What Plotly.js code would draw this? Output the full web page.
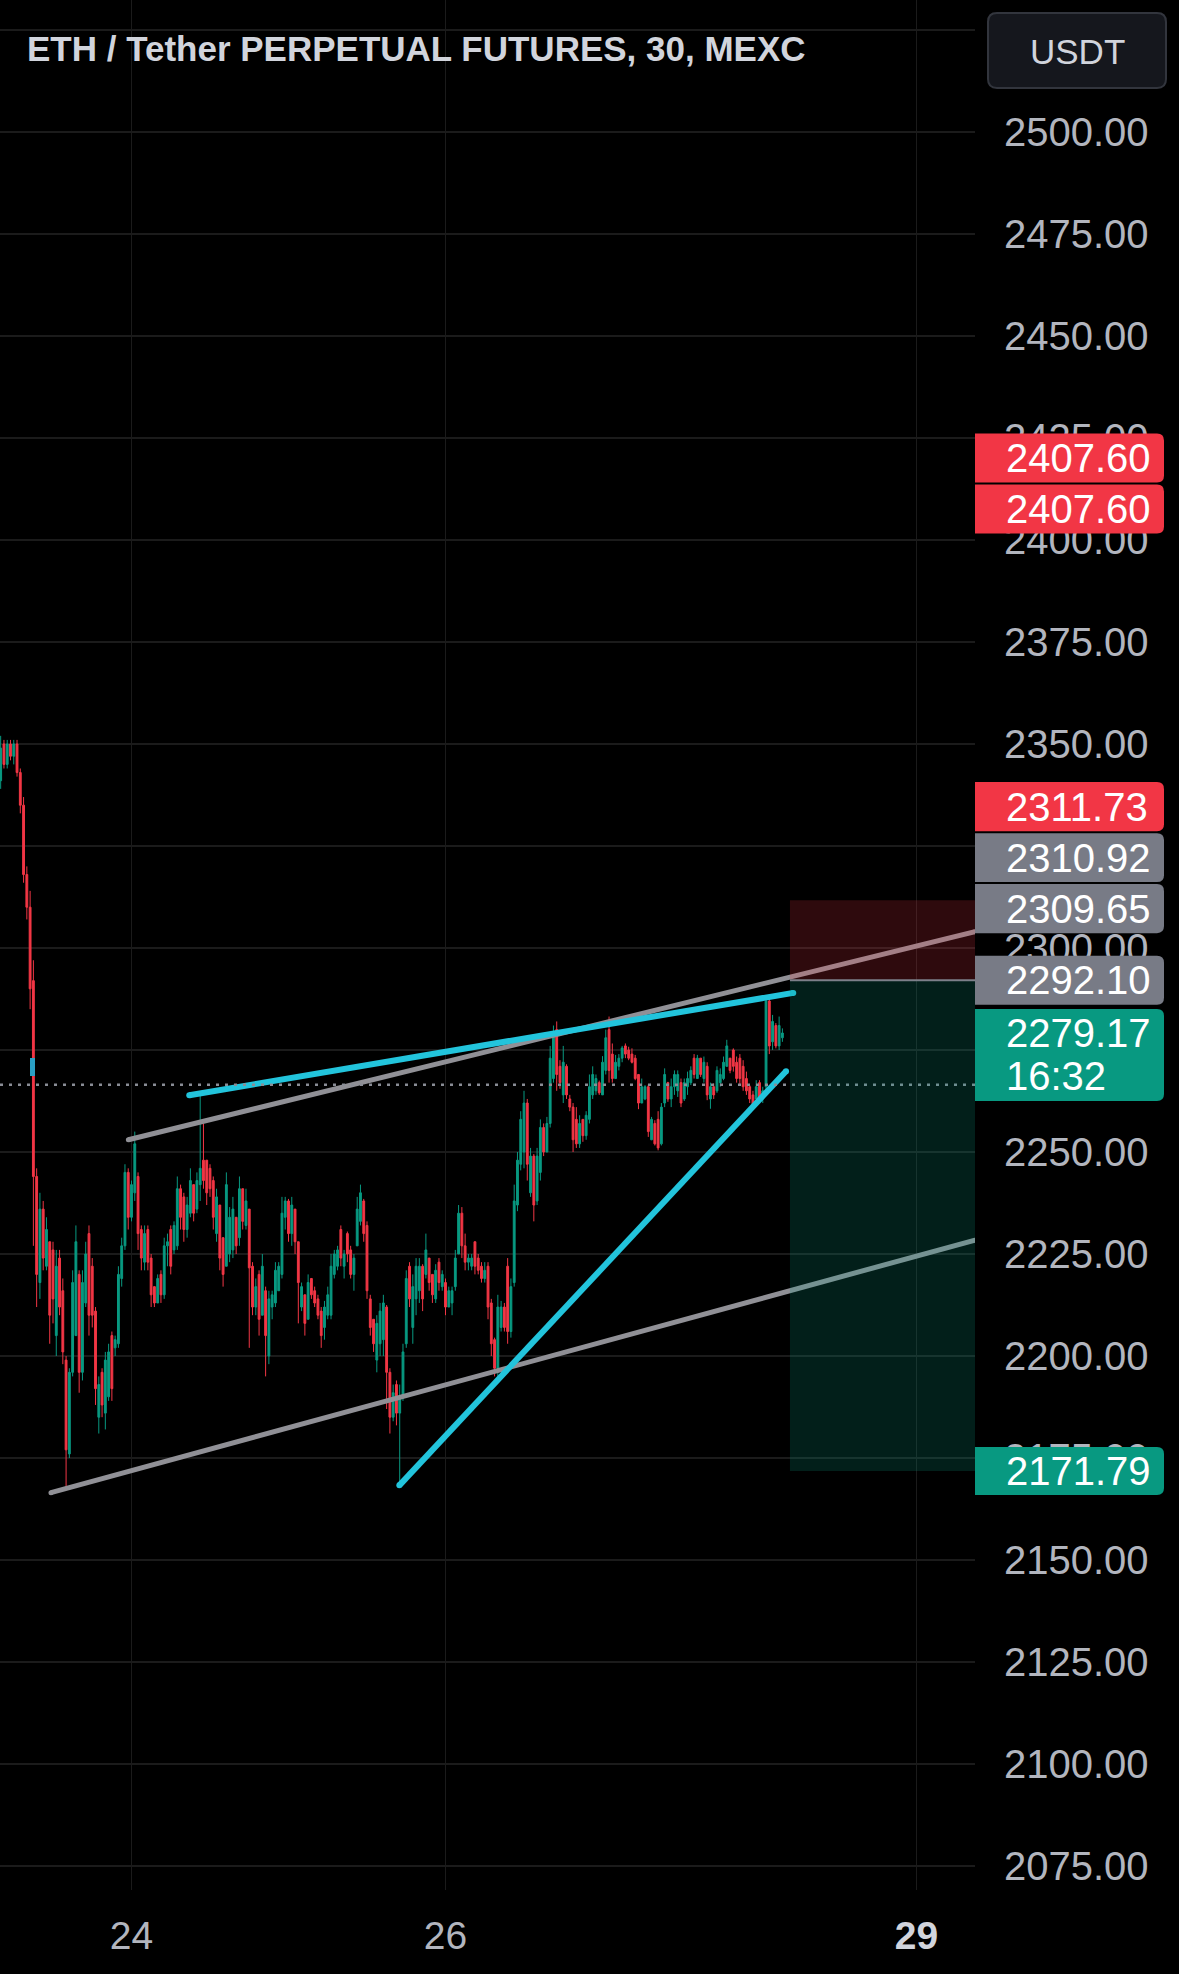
<!DOCTYPE html>
<html><head><meta charset="utf-8">
<script src="https://cdn.plot.ly/plotly-3.0.1.min.js"></script>
<style>html,body{margin:0;padding:0;background:#000;}#chart{width:1179px;height:1974px;}</style>
</head><body><div id="chart"></div>
<script>
// ---------- DATA (ETH/USDT perp, 30-minute bars) ----------
const openP = [
2341,2350,2345,2350,2347,2350,2343,2335,2318,2310,
2292,2244,2218,2236,2222,2228,2226,2205,2224,2216,
2199,2176,2196,2205,2220,2196,2213,2230,2222,2211,
2185,2196,2186,2190,2205,2202,2203,2219,2227,2245,
2234,2240,2244,2231,2223,2231,2224,2217,2213,2220,
2215,2227,2231,2226,2227,2241,2239,2231,2235,2242,
2236,2242,2248,2248,2246,2243,2230,2237,2229,2222,
2225,2226,2234,2229,2241,2232,2236,2222,2212,2220,
2210,2216,2200,2212,2213,2216,2220,2234,2238,2230,
2236,2228,2212,2215,2209,2219,2216,2214,2211,2207,
2210,2210,2220,2222,2231,2222,2230,2226,2220,2227,
2233,2238,2232,2214,2209,2199,2203,2204,2212,2196,
2185,2193,2186,2190,2203,2222,2207,2214,2216,2222,
2220,2224,2220,2214,2223,2217,2218,2212,2213,2217,
2225,2235,2227,2223,2222,2228,2224,2222,2219,2222,
2213,2204,2197,2207,2212,2222,2206,2218,2237,2247,
2250,2262,2240,2249,2238,2245,2256,2250,2257,2268,
2280,2271,2264,2271,2263,2261,2258,2252,2258,2254,
2258,2264,2265,2267,2264,2270,2280,2274,2268,2271,
2273,2276,2275,2274,2273,2269,2262,2263,2266,2253,
2257,2258,2252,2262,2267,2263,2266,2265,2267,2263,
2266,2267,2273,2268,2273,2268,2271,2263,2266,2265,
2267,2268,2271,2273,2275,2272,2273,2271,2268,2266,
2264,2263,2267,2263,2266,2287,2277,2281,2276,2278];
const highP = [
2352,2351,2351,2351,2351,2351,2344,2337,2320,2314,
2297,2246,2240,2238,2234,2228,2228,2226,2226,2219,
2200,2197,2221,2232,2221,2221,2228,2232,2224,2212,
2195,2197,2201,2203,2206,2205,2222,2229,2247,2246,
2243,2255,2245,2232,2232,2232,2225,2217,2220,2221,
2229,2230,2232,2233,2244,2242,2240,2239,2246,2242,
2245,2264,2257,2248,2247,2244,2241,2237,2229,2245,
2236.5,2239,2234,2244,2241,2241,2236,2223,2219,2221,
2225,2217,2216,2216,2223,2223,2239,2239,2238.5,2239,
2236,2228,2218,2215,2220,2219,2217,2215,2212,2213.5,
2217,2225,2226,2227,2232,2226,2230.5,2227,2225,2239,
2242,2238.5,2233,2215,2209,2210,2213,2215,2212.5,2197,
2193,2194,2193,2203,2221,2223,2220,2224,2224,2222.5,
2230,2224,2220,2222.5,2224,2221,2219,2217,2217,2226,
2237,2236.5,2230,2225,2225,2228,2225,2223,2223,2223,
2214,2204.5,2215,2213.5,2213,2224,2219,2242,2250,2260,
2265,2263,2251,2249.5,2251,2258,2257,2258.6,2276,2281,
2282,2272.5,2276,2271.5,2264,2262,2261,2259,2258,2260,
2269,2271,2269,2267.5,2273.5,2280,2283.2,2276.6,2273.8,2274,
2276,2276.6,2275.8,2275.4,2273.8,2269,2268,2266.4,2266.5,2258.6,
2257.8,2260,2262,2270.5,2267.2,2268,2270,2270,2268,2268,
2269.7,2271,2274,2273.8,2273,2273.4,2272,2267,2266.8,2271,
2270.5,2273.4,2277.5,2273,2275.4,2273.4,2274,2272.5,2269.7,2266.4,
2265,2267.6,2267.6,2266,2288.5,2288,2283.6,2281.6,2283.2,2280.3];
const lowP = [
2339,2344,2344,2346,2345,2342,2333,2316,2307,2285,
2227,2212,2214,2221,2221,2203,2208,2200,2210,2198,
2168,2175,2195,2205,2191,2194,2212,2205,2207,2188,
2181,2185,2182,2189,2189,2200,2202,2217,2226,2231,
2233,2238,2226,2221,2221,2221,2212,2212,2213,2213,
2214,2222,2220,2225,2226,2231,2228,2229,2234,2233,
2235,2238,2241,2237,2239,2231,2228,2221,2217,2222,
2223,2224,2225,2227,2231,2231,2202,2210,2210,2205,
2210,2195,2198,2209,2212,2216,2219,2231,2228,2227,
2225,2208,2211,2205,2209,2214,2212,2209,2202,2204,
2209,2209,2219,2221,2222,2219,2223,2219,2216,2227,
2232,2228,2214,2205,2201,2196,2200,2200,2187,2181,
2184,2183,2168.5,2189,2202,2212,2203,2210,2213,2211,
2219,2216,2213,2213,2216,2216,2210,2212,2210,2216,
2225,2224,2221,2221,2221,2220,2220,2218,2218,2209,
2200,2195,2195,2206,2206,2203,2204.5,2217,2235.5,2245.5,
2246,2243,2239,2233,2237,2243,2249,2250,2256,2267,
2265,2265.5,2262,2263,2260,2250,2251,2251,2252.5,2253,
2257,2263,2264,2264,2264,2269,2267,2267,2268,2270,
2272,2273,2272.5,2271.7,2267.6,2260.5,2262,2262.7,2253.7,2252.9,
2251.6,2250.4,2251.6,2261,2262.3,2261,2264,2263.5,2261,2262.5,
2264,2266.4,2268,2268,2268.4,2267,2262.7,2260.6,2263,2264.5,
2266,2267.6,2270.9,2269.3,2269.7,2267,2266.4,2265,2264,2262,
2260.6,2263,2262,2262,2265,2274,2275,2275.4,2275,2277];
const closeP = [
2349,2345,2350,2347,2350,2343,2335,2318,2310,2290,
2244,2220,2236,2224,2231,2210,2214,2222,2212,2201,
2177,2196,2218,2228,2196,2218,2225,2210,2210,2192,
2193,2188,2199,2201,2192,2204,2220,2227,2245,2234,
2242,2252,2230,2224,2230,2223,2215,2213,2219,2215,
2227,2228,2222,2232,2241,2234,2231,2237,2243,2235,
2243,2246,2243,2240,2241,2234,2239,2224,2220,2242,
2234,2236,2227,2241,2233,2238,2221.6,2212,2217,2209,
2222,2205,2214,2215,2221,2222,2235,2238,2230,2237,
2228,2218,2217,2208,2218,2215,2213,2210,2205,2212,
2215,2222,2225,2226,2224,2225,2225,2220,2224,2236,
2240,2230,2216,2207,2203,2208,2211,2213,2196,2185,
2191,2186,2190,2201,2219,2214,2217,2222,2222,2214,
2226,2218,2215,2221,2218,2220,2212,2216,2216,2224,
2235,2227,2223,2224,2224,2222,2221,2219,2221,2212,
2203,2197,2212,2212,2207,2206,2217,2238,2248,2258,
2262,2247,2249,2237,2249,2256,2250,2257,2273,2279,
2269,2267,2272,2264,2261,2253,2252,2257,2254,2259,
2266,2269,2268,2264.5,2272,2278,2270,2268,2272,2273,
2275.5,2274,2273,2272,2268,2262,2266,2266,2255,2258,
2252,2251,2261,2269,2263,2266,2269,2269,2262,2267,
2268,2270,2269,2273,2269,2272,2264,2266,2264,2270,
2269,2272,2276,2270,2271,2268,2268,2266,2265,2263,
2261.5,2266,2263,2265,2287,2276,2282,2276,2281,2279.17];

const firstBar = '2024-01-23 04:00:00';      // first 30-minute bar on the chart
const barMinutes = 30;
const dayTicks = ['2024-01-24', '2024-01-26', '2024-01-29'];
const dayTickText = ['24', '26', '29'];
const priceTicks = [2075,2100,2125,2150,2175,2200,2225,2250,2275,2300,2325,2350,2375,2400,2425,2450,2475,2500,2525];
const hiddenPriceTicks = [2275, 2325, 2525];    // labels fully covered by the price tags / currency button
const title = 'ETH / Tether PERPETUAL FUTURES, 30, MEXC';
const currency = 'USDT';

// trend lines: [start day (Jan 2024, fractional), start price, end day, end price]
const grayUpper = [23.98, 2253.0, 29.3726, 2304.0];
const grayLower = [23.487, 2166.5, 29.3726, 2228.4];
const cyanUpper = [24.368, 2263.9, 28.215, 2289.0];
const cyanLower = [25.706, 2168.3, 28.169, 2269.8];

// short position tool
const stopPrice = 2311.73, entryPrice = 2292.10, targetPrice = 2171.79;
const positionStartDay = 28.194;
const dottedLevel = 2266.5;

// right-axis price labels
const axisLabelPrices = [2407.60, 2407.60, 2311.73, 2310.92, 2309.65, 2292.10];
const axisLabelKinds  = ['red', 'red', 'red', 'gray', 'gray', 'gray'];
const lastPrice = 2279.17;
const countdown = '16:32';

// ---------- RENDERING ----------
const W = 1179, H = 1974, PR = 975, PB = 1890;
const xRangeDays = [23.1624, 29.3726];
const yRange = [2069.12, 2532.35];
const RED = '#f23645', GREEN = '#089981', GRAY = '#787b86';
const FONT = 'Liberation Sans, Arial, sans-serif';
const GRID = '#1b1b1b';

function fmt(ms){ return new Date(ms).toISOString().slice(0,19).replace('T',' '); }
function dayStr(d){ return fmt(Date.UTC(2024,0,1) + (d-1)*86400000); }
const t0 = Date.parse(firstBar.replace(' ','T') + 'Z');
const times = openP.map((_, i) => fmt(t0 + i*barMinutes*60000));

const X = p => p / PR;
const Y = p => 1 - p / PB;
const priceToPx = v => (yRange[1] - v) / (yRange[1] - yRange[0]) * PB;

function rrect(x0,y0,x1,y1,tl,tr,br,bl){
  const f = (a,b) => X(a).toFixed(5)+','+Y(b).toFixed(5);
  return 'M'+f(x0+tl,y0)+' L'+f(x1-tr,y0)+' Q'+f(x1,y0)+' '+f(x1,y0+tr)+
    ' L'+f(x1,y1-br)+' Q'+f(x1,y1)+' '+f(x1-br,y1)+' L'+f(x0+bl,y1)+
    ' Q'+f(x0,y1)+' '+f(x0,y1-bl)+' L'+f(x0,y0+tl)+' Q'+f(x0,y0)+' '+f(x0+tl,y0)+' Z';
}

function lineTrace(seg, color, width){
  return {type:'scatter', mode:'lines+markers', x:[dayStr(seg[0]), dayStr(seg[2])], y:[seg[1], seg[3]],
    line:{color:color, width:width}, marker:{color:color, size:width}, hoverinfo:'skip', showlegend:false};
}

const traces = [
  {type:'candlestick', x:times, open:openP, high:highP, low:lowP, close:closeP,
   increasing:{line:{color:GREEN, width:1}, fillcolor:GREEN},
   decreasing:{line:{color:RED, width:1}, fillcolor:RED},
   whiskerwidth:0, hoverinfo:'skip', showlegend:false},
  lineTrace(grayUpper, '#909096', 5),
  lineTrace(grayLower, '#909096', 5),
  lineTrace(cyanUpper, '#22c4dc', 6),
  lineTrace(cyanLower, '#22c4dc', 6)
];

const shapes = [];
const annotations = [];
// dotted level
shapes.push({type:'line', xref:'paper', yref:'y', x0:0, x1:1, y0:dottedLevel, y1:dottedLevel,
  line:{color:'#8a8d96', width:2.5, dash:'3px,6px'}, layer:'above'});
// position tool
shapes.push({type:'rect', xref:'x', yref:'y', x0:dayStr(positionStartDay), x1:dayStr(xRangeDays[1]),
  y0:entryPrice, y1:stopPrice, fillcolor:'rgba(242,54,69,0.19)', line:{width:0}, layer:'above'});
shapes.push({type:'rect', xref:'x', yref:'y', x0:dayStr(positionStartDay), x1:dayStr(xRangeDays[1]),
  y0:targetPrice, y1:entryPrice, fillcolor:'rgba(8,153,129,0.2)', line:{width:0}, layer:'above'});
shapes.push({type:'line', xref:'x', yref:'y', x0:dayStr(positionStartDay), x1:dayStr(xRangeDays[1]),
  y0:entryPrice, y1:entryPrice, line:{color:'#7d808a', width:2}, layer:'above'});
// small cyan anchor mark
shapes.push({type:'rect', xref:'paper', yref:'paper', x0:X(30), x1:X(35), y0:Y(1076), y1:Y(1058),
  fillcolor:'#2a9fc4', line:{width:0}, layer:'above'});

// label boxes on the price axis
const LH = 50, BX0 = PR, BX1 = 1164, TX = 1004;
const lastPx = priceToPx(lastPrice);
const greenTop = lastPx - 24, greenBot = lastPx + 68;
let limit = greenTop;
const order = axisLabelPrices.map((v,i)=>i).sort((a,b)=>axisLabelPrices[a]-axisLabelPrices[b]);
order.forEach(i => {
  const c = Math.min(priceToPx(axisLabelPrices[i]), limit - 1 - LH/2);
  limit = c - LH/2;
  const col = axisLabelKinds[i] === 'red' ? RED : GRAY;
  shapes.push({type:'path', xref:'paper', yref:'paper', path:rrect(BX0, c-LH/2+0.5, BX1, c+LH/2-0.5, 0, 7, 7, 0),
    fillcolor:col, line:{width:0}, layer:'above'});
  annotations.push({xref:'paper', yref:'paper', x:X(TX), y:Y(c), xanchor:'left', yanchor:'middle',
    text:axisLabelPrices[i].toFixed(2), showarrow:false, font:{family:FONT, size:40, color:'#ffffff'}});
});
// current price + countdown
shapes.push({type:'path', xref:'paper', yref:'paper', path:rrect(BX0, greenTop, BX1, greenBot, 0, 7, 7, 0),
  fillcolor:GREEN, line:{width:0}, layer:'above'});
annotations.push({xref:'paper', yref:'paper', x:X(TX), y:Y(lastPx), xanchor:'left', yanchor:'middle',
  text:lastPrice.toFixed(2), showarrow:false, font:{family:FONT, size:40, color:'#ffffff'}});
annotations.push({xref:'paper', yref:'paper', x:X(TX), y:Y(lastPx+43), xanchor:'left', yanchor:'middle',
  text:countdown, showarrow:false, font:{family:FONT, size:40, color:'#ffffff'}});
// target label
const tPx = priceToPx(targetPrice);
shapes.push({type:'path', xref:'paper', yref:'paper', path:rrect(BX0, tPx-24, BX1, tPx+24, 0, 7, 7, 0),
  fillcolor:GREEN, line:{width:0}, layer:'above'});
annotations.push({xref:'paper', yref:'paper', x:X(TX), y:Y(tPx), xanchor:'left', yanchor:'middle',
  text:targetPrice.toFixed(2), showarrow:false, font:{family:FONT, size:40, color:'#ffffff'}});
// currency button
shapes.push({type:'path', xref:'paper', yref:'paper', path:rrect(988, 13, 1166, 88, 9, 9, 9, 9),
  fillcolor:'#15171d', line:{color:'#32353d', width:2}, layer:'above'});
annotations.push({xref:'paper', yref:'paper', x:X(1077), y:Y(51), xanchor:'center', yanchor:'middle',
  text:currency, showarrow:false, font:{family:FONT, size:35, color:'#d1d4dc'}});
// title
annotations.push({xref:'paper', yref:'paper', x:X(25), y:Y(48), xanchor:'left', yanchor:'middle',
  text:'<b>'+title+'</b>', showarrow:false, font:{family:FONT, size:35, color:'#d1d4dc'}});

const tickText = dayTickText.map((t,i) => i === dayTickText.length-1 ? '<b><span style="color:#d1d4dc">'+t+'</span></b>' : t);
const priceTickText = priceTicks.map(v => hiddenPriceTicks.includes(v) ? '' : v.toFixed(2));

const layout = {
  width:W, height:H, paper_bgcolor:'#000', plot_bgcolor:'#000',
  margin:{l:0, r:W-PR, t:0, b:H-PB, pad:0},
  showlegend:false, boxgap:0.2, dragmode:false,
  xaxis:{type:'date', range:[dayStr(xRangeDays[0]), dayStr(xRangeDays[1])],
    tickmode:'array', tickvals:dayTicks, ticktext:tickText,
    showgrid:true, gridcolor:GRID, gridwidth:1.5, zeroline:false, showline:false, ticks:'',
    tickfont:{family:FONT, size:39, color:'#b2b5be'}, ticklabelstandoff:19,
    rangeslider:{visible:false}, fixedrange:true},
  yaxis:{side:'right', range:yRange, tickmode:'array', tickvals:priceTicks, ticktext:priceTickText,
    showgrid:true, gridcolor:GRID, gridwidth:1.5, zeroline:false, showline:false, ticks:'',
    tickfont:{family:FONT, size:40, color:'#b2b5be'}, ticklabelstandoff:28, fixedrange:true},
  shapes:shapes, annotations:annotations
};
Plotly.newPlot('chart', traces, layout, {staticPlot:true, displayModeBar:false});
</script>
</body></html>
